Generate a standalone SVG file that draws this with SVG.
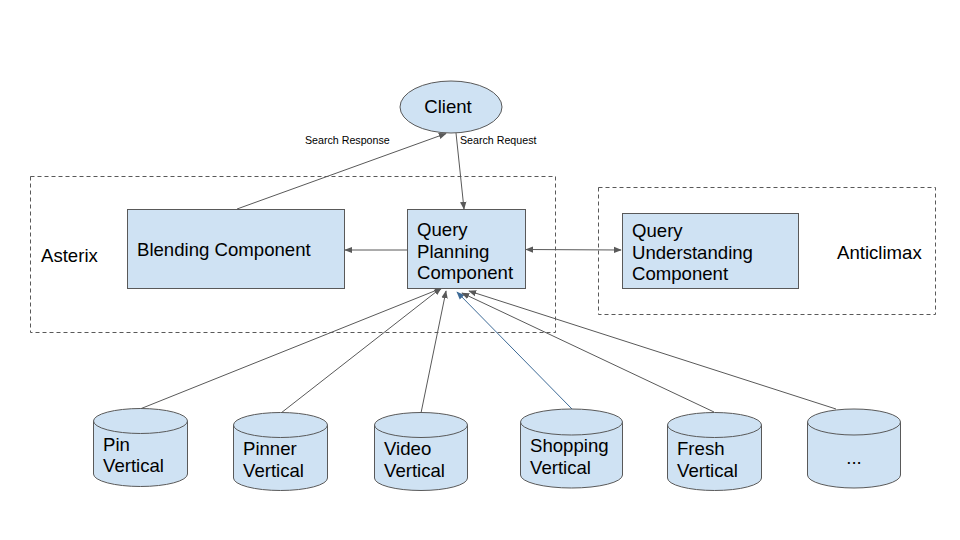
<svg xmlns="http://www.w3.org/2000/svg" width="960" height="540" viewBox="0 0 960 540">
<style>
.t{font-family:"Liberation Sans",Arial,sans-serif;font-size:18.6px;fill:#000}
.s{font-family:"Liberation Sans",Arial,sans-serif;font-size:10.67px;fill:#000}
.n{fill:#cfe2f3;stroke:#595959;stroke-width:1}
.d{fill:none;stroke:#595959;stroke-width:1;stroke-dasharray:4,3}
.c{fill:none;stroke:#595959;stroke-width:1}
</style>
<defs>
<marker id="a" viewBox="0 0 10 10" refX="9" refY="5" markerWidth="8" markerHeight="8" markerUnits="userSpaceOnUse" orient="auto-start-reverse"><path d="M0,1 L10,5 L0,9 Z" fill="#595959"/></marker>
<marker id="ab" viewBox="0 0 10 10" refX="9" refY="5" markerWidth="8" markerHeight="8" markerUnits="userSpaceOnUse" orient="auto"><path d="M0,1 L10,5 L0,9 Z" fill="#3d6a96"/></marker>
</defs>
<rect width="960" height="540" fill="#fff"/>
<g id="asterix-group">
<rect class="d" x="30.5" y="176.5" width="525" height="156"/>
<text class="t" x="41" y="262">Asterix</text>
</g>
<g id="anticlimax-group">
<rect class="d" x="598.5" y="187.5" width="337" height="127"/>
<text class="t" x="837" y="259">Anticlimax</text>
</g>
<g id="connectors">
<line class="c" x1="237" y1="209" x2="446" y2="133.5" marker-end="url(#a)"/>
<line class="c" x1="456" y1="133" x2="464" y2="209" marker-end="url(#a)"/>
<line class="c" x1="407" y1="250" x2="345" y2="250" marker-end="url(#a)"/>
<line class="c" x1="526" y1="249.5" x2="621" y2="250" marker-start="url(#a)" marker-end="url(#a)"/>
<line class="c" x1="140" y1="409" x2="442" y2="288" marker-end="url(#a)"/>
<line class="c" x1="281" y1="413" x2="441" y2="288" marker-end="url(#a)"/>
<line class="c" x1="421" y1="413" x2="446" y2="291" marker-end="url(#a)"/>
<line x1="572" y1="409" x2="457" y2="292" stroke="#3d6a96" stroke-width="1" marker-end="url(#ab)"/>
<line class="c" x1="714" y1="412" x2="462" y2="293" marker-end="url(#a)"/>
<line class="c" x1="836" y1="409" x2="469" y2="291" marker-end="url(#a)"/>
</g>
<g id="client">
<ellipse class="n" cx="451" cy="107" rx="51" ry="26"/>
<text class="t" x="448" y="113" text-anchor="middle">Client</text>
</g>
<text class="s" x="305" y="144">Search Response</text>
<text class="s" x="460" y="144">Search Request</text>
<g id="blending">
<rect class="n" x="127.5" y="209.5" width="217" height="79"/>
<text class="t" x="137" y="256">Blending Component</text>
</g>
<g id="query-planning">
<rect class="n" x="407.5" y="209.5" width="118" height="79"/>
<text class="t" x="417" y="236">Query</text>
<text class="t" x="417" y="258">Planning</text>
<text class="t" x="417" y="279">Component</text>
</g>
<g id="query-understanding">
<rect class="n" x="622.5" y="213.5" width="176" height="75"/>
<text class="t" x="632" y="237">Query</text>
<text class="t" x="632" y="259">Understanding</text>
<text class="t" x="632" y="280">Component</text>
</g>
<g id="pin-vertical">
<path class="n" d="M93.5,421 A47,12.5 0 0 1 187.5,421 L187.5,474 A47,12.5 0 0 1 93.5,474 Z"/>
<path class="n" d="M93.5,421 A47,12.5 0 0 0 187.5,421"/>
<text class="t" x="103" y="451">Pin</text>
<text class="t" x="103" y="472">Vertical</text>
</g>
<g id="pinner-vertical">
<path class="n" d="M233.5,425 A47,12.5 0 0 1 327.5,425 L327.5,478 A47,12.5 0 0 1 233.5,478 Z"/>
<path class="n" d="M233.5,425 A47,12.5 0 0 0 327.5,425"/>
<text class="t" x="243" y="455">Pinner</text>
<text class="t" x="243" y="477">Vertical</text>
</g>
<g id="video-vertical">
<path class="n" d="M374.5,425 A46.5,12.5 0 0 1 467.5,425 L467.5,478 A46.5,12.5 0 0 1 374.5,478 Z"/>
<path class="n" d="M374.5,425 A46.5,12.5 0 0 0 467.5,425"/>
<text class="t" x="384" y="455">Video</text>
<text class="t" x="384" y="477">Vertical</text>
</g>
<g id="shopping-vertical">
<path class="n" d="M520.5,422 A51,13 0 0 1 622.5,422 L622.5,475 A51,13 0 0 1 520.5,475 Z"/>
<path class="n" d="M520.5,422 A51,13 0 0 0 622.5,422"/>
<text class="t" x="530" y="452">Shopping</text>
<text class="t" x="530" y="474">Vertical</text>
</g>
<g id="fresh-vertical">
<path class="n" d="M667.5,425 A47,12.5 0 0 1 761.5,425 L761.5,478 A47,12.5 0 0 1 667.5,478 Z"/>
<path class="n" d="M667.5,425 A47,12.5 0 0 0 761.5,425"/>
<text class="t" x="677" y="455">Fresh</text>
<text class="t" x="677" y="477">Vertical</text>
</g>
<g id="more-vertical">
<path class="n" d="M807.5,422 A46.5,13 0 0 1 900.5,422 L900.5,475 A46.5,13 0 0 1 807.5,475 Z"/>
<path class="n" d="M807.5,422 A46.5,13 0 0 0 900.5,422"/>
<text class="t" x="854" y="464" text-anchor="middle">...</text>
</g>
</svg>
